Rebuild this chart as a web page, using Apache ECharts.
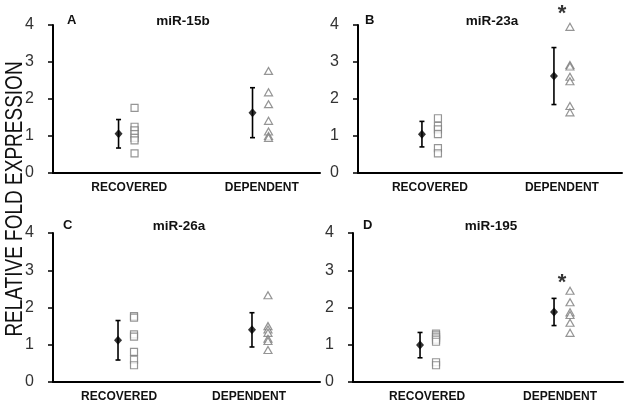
<!DOCTYPE html>
<html>
<head>
<meta charset="utf-8">
<script src="https://cdn.jsdelivr.net/npm/echarts@6/dist/echarts.min.js"></script>
<style>
html,body{margin:0;padding:0;background:#fff;}
#chart{width:629px;height:403px;}
</style>
</head>
<body>
<div id="chart"></div>
<script>
// ---- data ----
const categories = ['RECOVERED', 'DEPENDENT'];
const panelLetters = ['A', 'B', 'C', 'D'];
const panelTitles = ['miR-15b', 'miR-23a', 'miR-26a', 'miR-195'];
const yTicks = [0, 1, 2, 3, 4];
const yAxisTitle = 'RELATIVE FOLD EXPRESSION';

const recovered15b = [1.76, 1.25, 1.15, 1.05, 0.95, 0.88, 0.53];
const dependent15b = [2.76, 2.18, 1.86, 1.41, 1.12, 1.00, 0.95];
const recovered23a = [1.48, 1.27, 1.18, 1.05, 0.67, 0.53];
const dependent23a = [3.95, 2.92, 2.88, 2.60, 2.48, 1.81, 1.64];
const recovered26a = [1.77, 1.73, 1.28, 1.22, 0.81, 0.60, 0.45];
const dependent26a = [2.33, 1.50, 1.41, 1.32, 1.16, 1.10, 0.86];
const recovered195 = [1.30, 1.25, 1.20, 1.14, 1.08, 0.53, 0.45];
const dependent195 = [2.45, 2.14, 1.87, 1.80, 1.59, 1.32];

const meanRecovered = [1.06, 1.05, 1.12, 0.99];
const sdRecovered = [0.385, 0.345, 0.53, 0.34];
const meanDependent = [1.63, 2.62, 1.40, 1.88];
const sdDependent = [0.675, 0.77, 0.46, 0.365];
// y position of the significance asterisk above DEPENDENT (null = none)
const significanceY = [null, 4.3, null, 2.65];

// ---- layout ----
const recoveredSets = [recovered15b, recovered23a, recovered26a, recovered195];
const dependentSets = [dependent15b, dependent23a, dependent26a, dependent195];
const grids = [
  {left: 53, top: 25, width: 267, height: 148},
  {left: 358, top: 25, width: 264, height: 148},
  {left: 53, top: 233, width: 267, height: 150},
  {left: 353, top: 233, width: 270, height: 149}
];
const xRange = [[-0.549, 1.444], [-0.545, 1.455], [-0.545, 1.448], [-0.56, 1.455]];
const labelPos = [[0.02, 1.01], [0, 1], [-0.052, 0.918], [-0.007, 0.985]];
const titlePos = [
  {letter: [67, 14], name: [183, 14]},
  {letter: [365, 14], name: [492, 14]},
  {letter: [63, 219], name: [179, 219]},
  {letter: [363, 219], name: [491, 219]}
];

const GAP = 8;
const FONT = '"Liberation Sans", Arial, sans-serif';
const grid = [], xAxis = [], yAxis = [], series = [], title = [];

for (let i = 0; i < 4; i++) {
  grid.push(Object.assign({containLabel: false}, grids[i]));
  const lp = labelPos[i];
  xAxis.push({
    gridIndex: i, type: 'value', min: xRange[i][0], max: xRange[i][1],
    axisLine: {show: true, onZero: false, lineStyle: {color: '#000', width: 2}},
    axisTick: {show: false},
    splitLine: {show: false},
    axisLabel: {
      customValues: lp,
      formatter: function (v) { return v < 0.5 ? categories[0] : categories[1]; },
      fontFamily: FONT, fontWeight: 'bold', fontSize: 12, color: '#111', margin: 9
    }
  });
  yAxis.push({
    gridIndex: i, type: 'value', min: yTicks[0], max: yTicks[yTicks.length - 1], interval: 1,
    axisLine: {show: true, onZero: false, lineStyle: {color: '#000', width: 2}},
    axisTick: {show: true, length: 5, lineStyle: {color: '#000', width: 1.5}},
    splitLine: {show: false},
    axisLabel: {fontFamily: FONT, fontSize: 16, color: '#333', margin: 19}
  });

  // error bars
  series.push({
    type: 'custom', xAxisIndex: i, yAxisIndex: i, z: 3,
    data: [
      [0, meanRecovered[i] - sdRecovered[i], meanRecovered[i] + sdRecovered[i]],
      [1, meanDependent[i] - sdDependent[i], meanDependent[i] + sdDependent[i]]
    ],
    encode: {x: 0, y: [1, 2]},
    renderItem: function (params, api) {
      const x = api.value(0);
      const lo = api.coord([x, api.value(1)]);
      const hi = api.coord([x, api.value(2)]);
      const cx = lo[0] - GAP;
      const cap = 2.5;
      const st = {stroke: '#000', lineWidth: 1.6};
      return {type: 'group', children: [
        {type: 'line', shape: {x1: cx, y1: hi[1], x2: cx, y2: lo[1]}, style: st},
        {type: 'line', shape: {x1: cx - cap, y1: hi[1], x2: cx + cap, y2: hi[1]}, style: st},
        {type: 'line', shape: {x1: cx - cap, y1: lo[1], x2: cx + cap, y2: lo[1]}, style: st}
      ]};
    }
  });
  // means
  series.push({
    type: 'scatter', xAxisIndex: i, yAxisIndex: i, z: 4,
    symbol: 'diamond', symbolSize: [8, 9], symbolOffset: [-GAP, 0],
    itemStyle: {color: '#000'},
    data: [[0, meanRecovered[i]], [1, meanDependent[i]]]
  });
  // recovered individual points
  series.push({
    type: 'scatter', xAxisIndex: i, yAxisIndex: i, z: 5,
    symbol: 'rect', symbolSize: 7, symbolOffset: [GAP, 0],
    itemStyle: {color: '#fff', borderColor: '#7a7a7a', borderWidth: 1.2},
    data: recoveredSets[i].map(function (v) { return [0, v]; })
  });
  // dependent individual points
  series.push({
    type: 'scatter', xAxisIndex: i, yAxisIndex: i, z: 5,
    symbol: 'triangle', symbolSize: [8, 7], symbolOffset: [GAP, 0],
    itemStyle: {color: '#fff', borderColor: '#7a7a7a', borderWidth: 1.2},
    data: dependentSets[i].map(function (v) { return [1, v]; })
  });
  // significance
  if (significanceY[i] !== null) {
    series.push({
      type: 'scatter', xAxisIndex: i, yAxisIndex: i, z: 6, clip: false,
      symbolSize: 0,
      label: {show: true, position: 'inside', formatter: '*', color: '#000',
        fontSize: 22, fontWeight: 'bold', fontFamily: FONT},
      data: [[1, significanceY[i]]]
    });
  }

  title.push({
    text: panelLetters[i], left: titlePos[i].letter[0], top: titlePos[i].letter[1], padding: 0,
    textStyle: {fontSize: 13, fontWeight: 'bold', color: '#111', fontFamily: FONT}
  });
  title.push({
    text: panelTitles[i], left: titlePos[i].name[0], top: titlePos[i].name[1], padding: 0,
    textAlign: 'center',
    textStyle: {fontSize: 13.5, fontWeight: 'bold', color: '#111', fontFamily: FONT}
  });
}

const chart = echarts.init(document.getElementById('chart'), null, {renderer: 'canvas'});
chart.setOption({
  animation: false,
  backgroundColor: '#fff',
  grid: grid, xAxis: xAxis, yAxis: yAxis, series: series, title: title,
  graphic: [{
    type: 'text', x: 15, y: 199,
    rotation: Math.PI / 2, scaleY: 1.25,
    style: {text: yAxisTitle, fill: '#111', font: '19px ' + FONT,
      textAlign: 'center', textVerticalAlign: 'middle'}
  }]
});
</script>
</body>
</html>
